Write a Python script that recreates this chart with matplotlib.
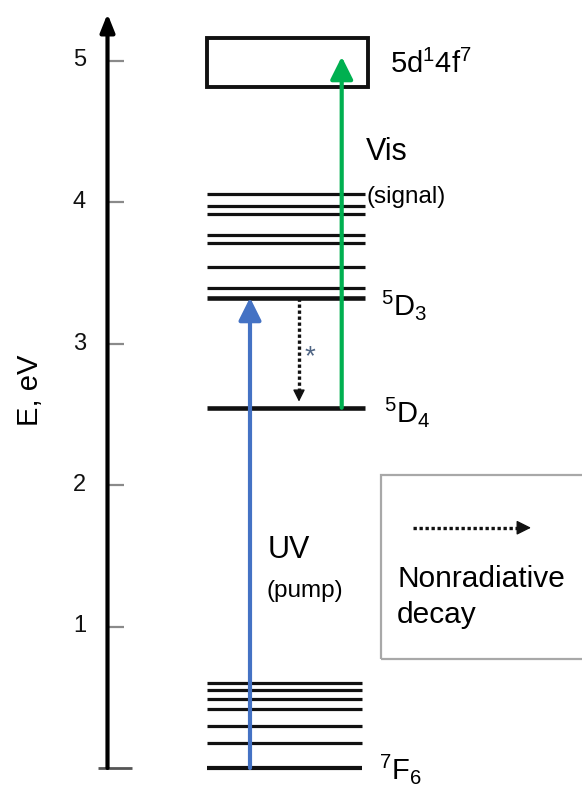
import matplotlib
matplotlib.use('Agg')
import matplotlib.pyplot as plt
from matplotlib.patches import Rectangle

plt.rcParams['font.family'] = ['Liberation Sans', 'DejaVu Sans']
plt.rcParams['mathtext.fontset'] = 'custom'
plt.rcParams['mathtext.rm'] = 'Liberation Sans'
plt.rcParams['mathtext.it'] = 'Liberation Sans:italic'
plt.rcParams['mathtext.bf'] = 'Liberation Sans:bold'

# ---------------- data (energies in eV) ----------------
ground_levels = [0.0, 0.179, 0.299, 0.415, 0.490, 0.551, 0.599]          # 7F manifold
excited_levels = [2.546, 3.324, 3.394, 3.543, 3.712, 3.767, 3.915, 3.970, 4.056]  # 5D manifold
thick_levels = [0.0, 2.546, 3.324]                                       # 7F6, 5D4, 5D3
band_5d = [4.815, 5.157]                                                 # 5d1 4f7 band
pump = [0.0, 3.324]          # UV pump: 7F6 -> 5D3
signal = [2.546, 5.027]      # Vis signal: 5D4 -> 5d band
nonrad = [3.324, 2.589]      # nonradiative decay 5D3 -> 5D4
yticks = [1, 2, 3, 4, 5]
ytick_labels = ['1', '2', '3', '4', '5']
axis_top = 5.33

# ---------------- figure ----------------
fig = plt.figure(figsize=(5.82, 7.88), dpi=100)
ax = fig.add_axes([0, 0, 1, 1])
ax.set_xlim(0, 582)
ax.set_ylim(-20 / 141.5, 768 / 141.5)
ax.axis('off')

BLUE = '#4472C4'
GREEN = '#00B050'

# y axis with arrow
ax.annotate('', xy=(107.5, axis_top), xytext=(107.5, 0.0),
            arrowprops=dict(arrowstyle='-|>,head_length=0.45,head_width=0.18',
                            mutation_scale=24, lw=3.0, color='black',
                            shrinkA=0, shrinkB=0), zorder=3)
for t, lab in zip(yticks, ytick_labels):
    ax.plot([107.5, 124], [t, t], color='#8a8a8a', lw=1.6, solid_capstyle='butt')
    ax.text(86, t, lab, ha='right', va='center', fontsize=17, color='#111111')
ax.plot([98, 132], [0, 0], color='#555555', lw=2.0, solid_capstyle='butt')
ax.text(30, 2.67, 'E, eV', rotation=90, ha='center', va='center', fontsize=21)

# energy levels
for e in ground_levels:
    ax.plot([207, 362], [e, e], color='#111111',
            lw=3.0 if e in thick_levels else 2.3, solid_capstyle='butt', zorder=2)
for e in excited_levels:
    ax.plot([207, 365], [e, e], color='#111111',
            lw=3.3 if e in thick_levels else 2.3, solid_capstyle='butt', zorder=2)

# 5d band box
ax.add_patch(Rectangle((207, band_5d[0]), 368 - 207, band_5d[1] - band_5d[0],
                       facecolor='white', edgecolor='#111111', lw=2.8, zorder=2))

# pump and signal arrows
ax.annotate('', xy=(250, pump[1]), xytext=(250, pump[0]),
            arrowprops=dict(arrowstyle='-|>,head_length=0.4,head_width=0.2',
                            mutation_scale=34, lw=3.0, color=BLUE,
                            shrinkA=0, shrinkB=0), zorder=4)
ax.annotate('', xy=(341.7, signal[1]), xytext=(341.7, signal[0]),
            arrowprops=dict(arrowstyle='-|>,head_length=0.4,head_width=0.2',
                            mutation_scale=34, lw=3.0, color=GREEN,
                            shrinkA=0, shrinkB=0), zorder=4)

# nonradiative decay (dotted)
head_len = 0.07
ax.plot([299, 299], [nonrad[0], nonrad[1] + head_len], color='#111111', lw=2.4,
        linestyle=(0, (1, 0.8)), zorder=3)
ax.annotate('', xy=(299, nonrad[1]), xytext=(299, nonrad[1] + head_len),
            arrowprops=dict(arrowstyle='-|>,head_length=0.4,head_width=0.2',
                            mutation_scale=18, lw=1.0, color='#111111',
                            shrinkA=0, shrinkB=0), zorder=3)
ax.text(310, 2.90, '*', ha='center', va='center', fontsize=20, color='#4f6584')

# level labels
ax.text(390, 4.912, r'$\mathregular{5d^{1}4f^{7}}$', ha='left', va='baseline', fontsize=21)
ax.text(366, 4.297, 'Vis', ha='left', va='baseline', fontsize=22)
ax.text(366, 3.996, '(signal)', ha='left', va='baseline', fontsize=17.5)
ax.text(381, 3.201, r'$\mathregular{^{5}D_{3}}$', ha='left', va='baseline', fontsize=21)
ax.text(384, 2.447, r'$\mathregular{^{5}D_{4}}$', ha='left', va='baseline', fontsize=21)
ax.text(379, -0.08, r'$\mathregular{^{7}F_{6}}$', ha='left', va='baseline', fontsize=21)
ax.text(268, 1.484, 'UV', ha='left', va='baseline', fontsize=22)
ax.text(267, 1.208, '(pump)', ha='left', va='baseline', fontsize=17.5)

# legend box
ax.add_patch(Rectangle((381, 0.768), 260, 2.071 - 0.768, facecolor='none',
                       edgecolor='#a8a8a8', lw=1.6, zorder=2))
ax.plot([413, 518], [1.698, 1.698], color='#111111', lw=2.4,
        linestyle=(0, (1, 0.8)), zorder=3)
ax.annotate('', xy=(531, 1.698), xytext=(517, 1.698),
            arrowprops=dict(arrowstyle='-|>,head_length=0.4,head_width=0.2',
                            mutation_scale=22, lw=1.0, color='#111111',
                            shrinkA=0, shrinkB=0), zorder=3)
ax.text(397, 1.281, 'Nonradiative', ha='left', va='baseline', fontsize=21.5)
ax.text(397, 1.022, 'decay', ha='left', va='baseline', fontsize=21.5)

fig.savefig('out.png', dpi=100)
